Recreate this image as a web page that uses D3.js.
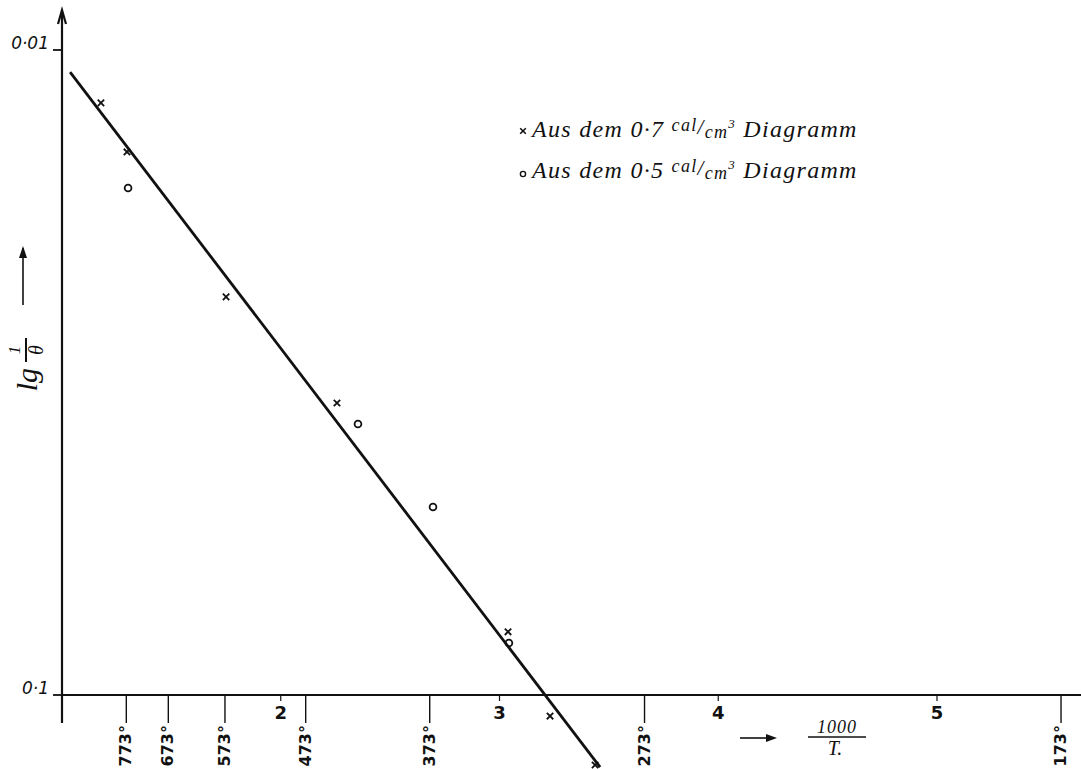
<!DOCTYPE html>
<html>
<head>
<meta charset="utf-8">
<script src="https://cdn.jsdelivr.net/npm/d3@7"></script>
<style>
  html, body { margin: 0; padding: 0; background: #fff; }
  svg { display: block; }
  .hand { font-family: "DejaVu Sans", sans-serif; fill: #111; }
  .script { font-family: "Liberation Serif", serif; font-style: italic; fill: #111; }
</style>
</head>
<body>
<svg id="chart" width="1081" height="769"></svg>
<script>
// Measurements: 1000/T against lg(1/θ) on a log scale
const crossX = [1.178, 1.297, 1.750, 2.257, 3.039, 3.231, 3.437];
const crossY = [0.01208, 0.01439, 0.02414, 0.03526, 0.0798, 0.1078, 0.1284];
const circleX = [1.302, 2.353, 2.696, 3.043];
const circleY = [0.01637, 0.03800, 0.05111, 0.08307];

// Fitted straight line (two end points)
const fitX = [1.037, 3.46];
const fitY = [0.01082, 0.1294];

// Axis ticks
const xTickValues = [2, 3, 4, 5];
const tempTickLabels = ["773°", "673°", "573°", "473°", "373°", "273°", "173°"];
const tempTickPos = [1.294, 1.486, 1.745, 2.114, 2.681, 3.663, 5.567];
const yTickValues = [0.01, 0.1];
const yTickLabels = ["0·01", "0·1"];

const legendLabels = ["0·7", "0·5"];

const svg = d3.select("#chart");
const ink = "#111";

const x = d3.scaleLinear().domain([1, 5]).range([62, 937]);
const y = d3.scaleLog().domain([0.01, 0.1]).range([50, 695]);
const x0 = x(1), yAxisPos = y(0.1);

// y axis with arrow head
svg.append("line").attr("x1", x0).attr("x2", x0).attr("y1", 12).attr("y2", 723)
  .attr("stroke", ink).attr("stroke-width", 2.2);
svg.append("path").attr("d", `M${x0 - 4},${24} L${x0},${10} L${x0 + 4},${24}`)
  .attr("fill", "none").attr("stroke", ink).attr("stroke-width", 2.2);

// x axis
svg.append("line").attr("x1", x0).attr("x2", 1081).attr("y1", yAxisPos).attr("y2", yAxisPos)
  .attr("stroke", ink).attr("stroke-width", 2.2);

// y ticks and labels
yTickValues.forEach((v, i) => {
  svg.append("line").attr("x1", x0 - 9).attr("x2", x0).attr("y1", y(v)).attr("y2", y(v))
    .attr("stroke", ink).attr("stroke-width", 1.8);
  svg.append("text").attr("class", "hand")
    .attr("x", x0 - 13).attr("y", y(v) - 1)
    .attr("text-anchor", "end").attr("font-size", 17)
    .attr("font-style", "italic")
    .text(yTickLabels[i]);
});

// integer ticks of 1000/T
xTickValues.forEach(v => {
  svg.append("line").attr("x1", x(v)).attr("x2", x(v)).attr("y1", yAxisPos).attr("y2", yAxisPos + 6)
    .attr("stroke", ink).attr("stroke-width", 1.2);
  svg.append("text").attr("class", "hand")
    .attr("x", x(v)).attr("y", yAxisPos + 24)
    .attr("text-anchor", "middle").attr("font-size", 18).attr("font-weight", "bold")
    .text(v);
});

// absolute temperature ticks, labels set vertically
tempTickPos.forEach((v, i) => {
  svg.append("line").attr("x1", x(v)).attr("x2", x(v)).attr("y1", yAxisPos).attr("y2", yAxisPos + 28)
    .attr("stroke", ink).attr("stroke-width", 1.4);
  svg.append("text").attr("class", "hand")
    .attr("transform", `translate(${x(v) + 5},${yAxisPos + 30}) rotate(-90)`)
    .attr("text-anchor", "end").attr("font-size", 16).attr("font-weight", "bold")
    .text(tempTickLabels[i]);
});

// fitted line
const fit = fitX.map((d, i) => [d, fitY[i]]);
svg.append("path").datum(fit)
  .attr("d", d3.line().x(d => x(d[0])).y(d => y(d[1])))
  .attr("stroke", ink).attr("stroke-width", 2.8).attr("fill", "none");

// cross markers
const crossPath = s => `M${-s},${-s} L${s},${s} M${-s},${s} L${s},${-s}`;
crossX.forEach((d, i) => {
  svg.append("path").attr("transform", `translate(${x(d)},${y(crossY[i])})`)
    .attr("d", crossPath(3.2)).attr("stroke", ink).attr("stroke-width", 1.8).attr("fill", "none");
});

// circle markers
circleX.forEach((d, i) => {
  svg.append("circle").attr("cx", x(d)).attr("cy", y(circleY[i])).attr("r", 3.4)
    .attr("fill", "none").attr("stroke", ink).attr("stroke-width", 1.8);
});

// legend
const legendRows = [{ y: 137, mark: "cross" }, { y: 178, mark: "circle" }];
legendRows.forEach((row, i) => {
  if (row.mark === "cross") {
    svg.append("path").attr("transform", `translate(523,${row.y - 6})`)
      .attr("d", crossPath(2.8)).attr("stroke", ink).attr("stroke-width", 1.6).attr("fill", "none");
  } else {
    svg.append("circle").attr("cx", 523).attr("cy", row.y - 4).attr("r", 2.6)
      .attr("fill", "none").attr("stroke", ink).attr("stroke-width", 1.4);
  }
  const t = svg.append("text").attr("class", "script")
    .attr("x", 532).attr("y", row.y).attr("font-size", 24)
    .attr("letter-spacing", 1.3);
  t.append("tspan").text("Aus dem " + legendLabels[i] + " ");
  t.append("tspan").attr("font-size", 18).attr("dy", -6).text("cal");
  t.append("tspan").attr("font-size", 21).attr("dy", 3).text("/");
  t.append("tspan").attr("font-size", 18).attr("dy", 4).text("cm");
  t.append("tspan").attr("font-size", 13).attr("dy", -10).text("3");
  t.append("tspan").attr("dy", 9).text(" Diagramm");
});

// y axis title with arrow
const yl = svg.append("g").attr("transform", "translate(37,372) rotate(-90)");
yl.append("text").attr("class", "script").attr("text-anchor", "end")
  .attr("x", 4).attr("font-size", 30).text("lg");
yl.append("text").attr("class", "script").attr("x", 22).attr("y", -17)
  .attr("text-anchor", "middle").attr("font-size", 17).text("1");
yl.append("line").attr("x1", 10).attr("x2", 34).attr("y1", -11).attr("y2", -11)
  .attr("stroke", ink).attr("stroke-width", 2);
yl.append("text").attr("class", "script").attr("x", 22).attr("y", 6)
  .attr("text-anchor", "middle").attr("font-size", 20).text("θ");
svg.append("line").attr("x1", 23).attr("x2", 23).attr("y1", 305).attr("y2", 248)
  .attr("stroke", ink).attr("stroke-width", 1.6);
svg.append("path").attr("d", "M19,258 L23,246 L27,258 Z").attr("fill", ink);

// x axis title with arrow
svg.append("line").attr("x1", 740).attr("x2", 770).attr("y1", 738).attr("y2", 738)
  .attr("stroke", ink).attr("stroke-width", 1.6);
svg.append("path").attr("d", "M766,734 L777,738 L766,742 Z").attr("fill", ink);
svg.append("text").attr("class", "script").attr("x", 837).attr("y", 733)
  .attr("text-anchor", "middle").attr("font-size", 18).attr("letter-spacing", 1).text("1000");
svg.append("line").attr("x1", 808).attr("x2", 866).attr("y1", 737).attr("y2", 737)
  .attr("stroke", ink).attr("stroke-width", 1.6);
svg.append("text").attr("class", "script").attr("x", 835).attr("y", 755)
  .attr("text-anchor", "middle").attr("font-size", 20).text("T.");
</script>
</body>
</html>
